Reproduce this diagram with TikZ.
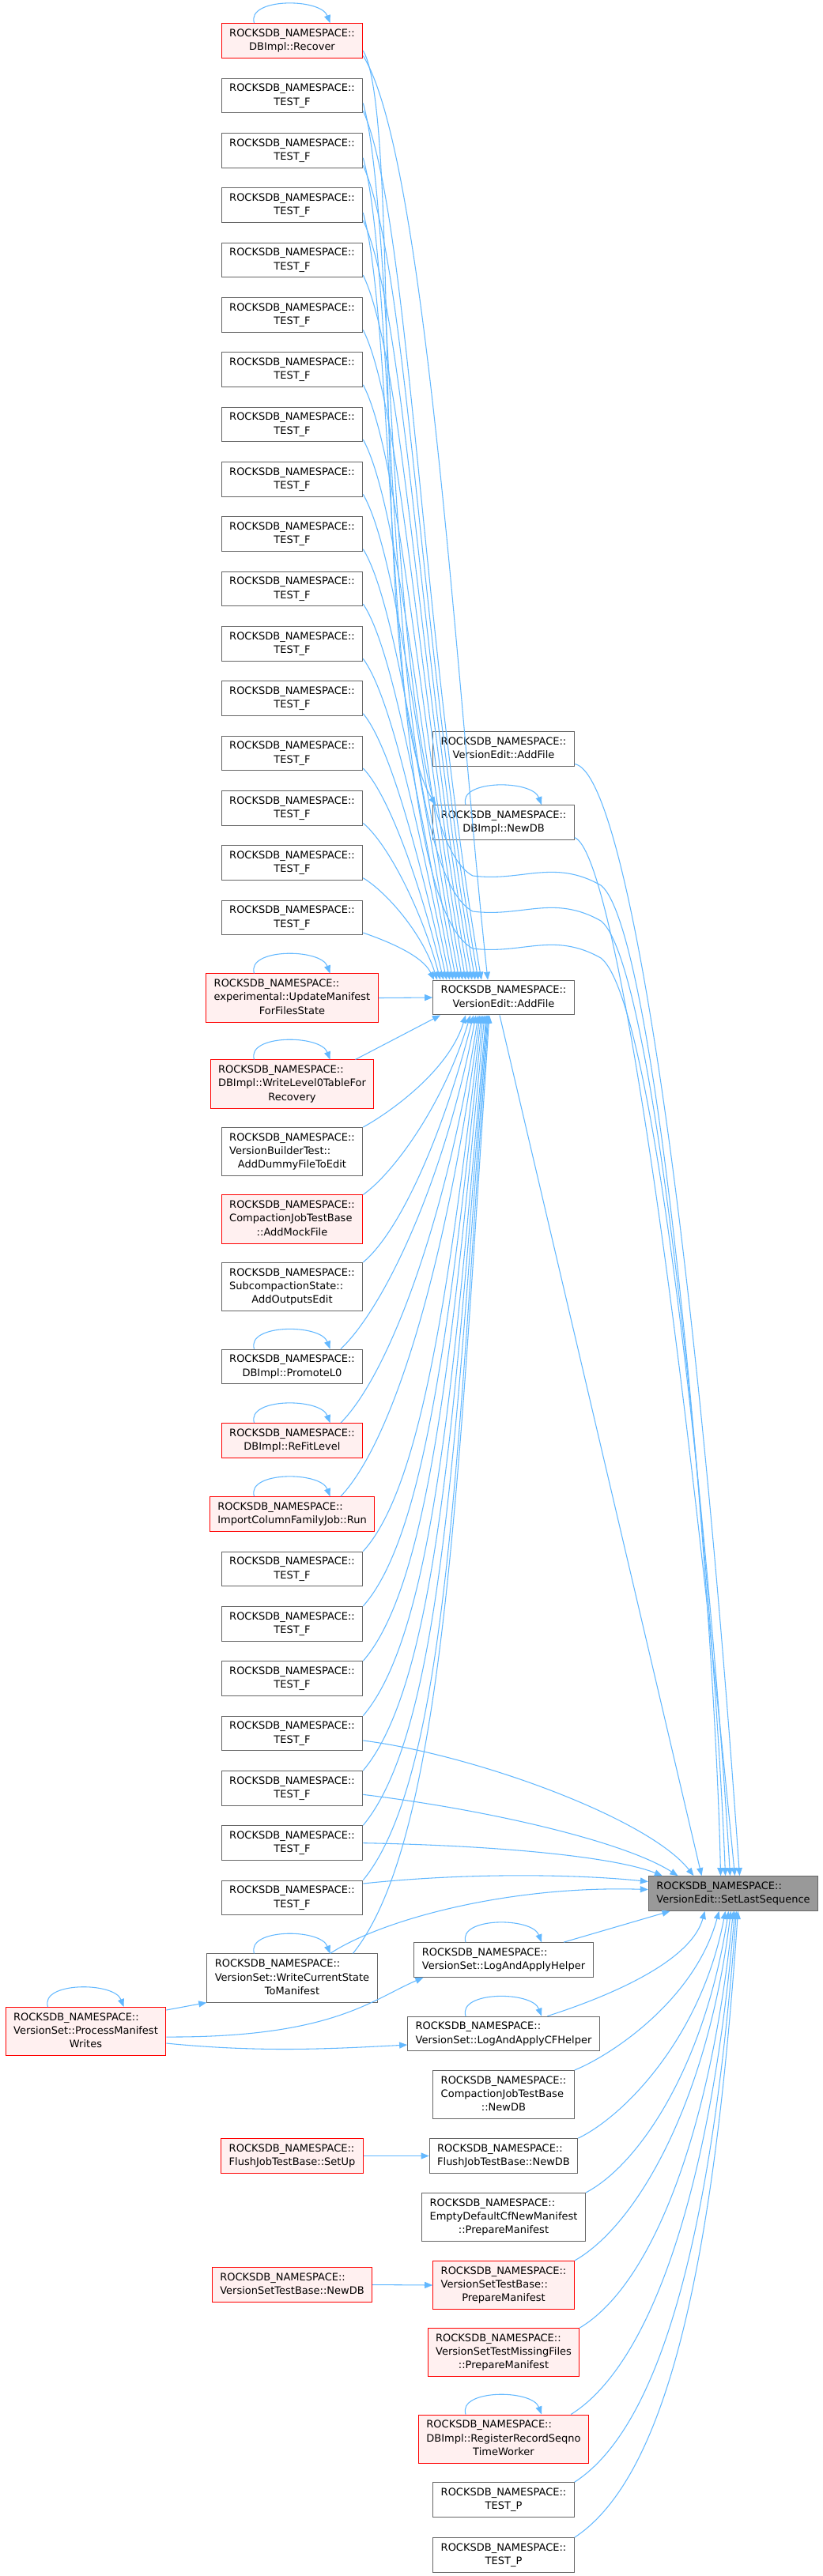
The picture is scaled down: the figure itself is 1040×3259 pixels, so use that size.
\documentclass[tikz,border=0pt]{standalone}
\usepackage{fontspec}
\setmainfont{DejaVu Sans}
\usepackage{tikz}
\usetikzlibrary{arrows.meta,positioning,calc}
\definecolor{edgeblue}{HTML}{63B8FF}
\definecolor{boxgray}{HTML}{666666}
\definecolor{redfill}{HTML}{FFF0F0}
\definecolor{curfill}{HTML}{999999}
\newcommand{\rns}{ROCKSDB\_NAMESPACE::}
\newcommand{\fnlbl}[2]{\begin{tabular}{@{}l@{}}#1\\\multicolumn{1}{@{}c@{}}{#2}\end{tabular}}

\begin{document}
\begin{tikzpicture}[x=0.75pt, y=-0.75pt,
  fn/.style={draw=boxgray, fill=white, line width=0.75pt, inner xsep=7.5pt, inner ysep=3.4pt, font=\fontsize{9.75}{13}\selectfont},
  fnred/.style={fn, draw=red, fill=redfill},
  fncur/.style={fn, fill=curfill},
  call/.style={draw=edgeblue, line width=0.8pt, -{Triangle[length=7.5pt, width=6pt]}}]
\useasboundingbox (0,0) rectangle (1040,3259);

\node[fnred] (recover) at (369.5,51.5) {\fnlbl{\rns}{DBImpl::Recover}};
\foreach \i in {1,...,16}
  \node[fn] (tf\i) at (369.5,{121+69.33*(\i-1)}) {\fnlbl{\rns}{TEST\_F}};
\node[fnred] (upd) at (369.5,1262.5) {\fnlbl{\rns\\experimental::UpdateManifest}{ForFilesState}};
\node[fnred] (wl0) at (369.5,1371.5) {\fnlbl{\rns\\DBImpl::WriteLevel0TableFor}{Recovery}};
\node[fn] (vbt) at (369.5,1457) {\fnlbl{\rns\\VersionBuilderTest::}{AddDummyFileToEdit}};
\node[fnred] (amf) at (369.5,1542.5) {\fnlbl{\rns\\CompactionJobTestBase}{::AddMockFile}};
\node[fn] (sub) at (369.5,1628) {\fnlbl{\rns\\SubcompactionState::}{AddOutputsEdit}};
\node[fn] (promote) at (369.5,1729) {\fnlbl{\rns}{DBImpl::PromoteL0}};
\node[fnred] (refit) at (369.5,1822.5) {\fnlbl{\rns}{DBImpl::ReFitLevel}};
\node[fnred] (icfrun) at (369.5,1915.5) {\fnlbl{\rns}{ImportColumnFamilyJob::Run}};
\foreach \i in {1,...,7}
  \node[fn] (tg\i) at (369.5,{1985+69.33*(\i-1)}) {\fnlbl{\rns}{TEST\_F}};
\node[fn] (wcsm) at (369.5,2502.5) {\fnlbl{\rns\\VersionSet::WriteCurrentState}{ToManifest}};
\node[fnred] (setup) at (369.5,2727.5) {\fnlbl{\rns}{FlushJobTestBase::SetUp}};
\node[fnred] (vsnewdb) at (369.5,2890.5) {\fnlbl{\rns}{VersionSetTestBase::NewDB}};

\node[fnred] (pmw) at (108.5,2570) {\fnlbl{\rns\\VersionSet::ProcessManifest}{Writes}};

\node[fn] (ae) at (637,947.5) {\fnlbl{\rns}{VersionEdit::AddFile}};
\node[fn] (newdb) at (637,1040.5) {\fnlbl{\rns}{DBImpl::NewDB}};
\node[fn] (hub) at (637,1262) {\fnlbl{\rns}{VersionEdit::AddFile}};
\node[fn] (lah) at (637,2479.5) {\fnlbl{\rns}{VersionSet::LogAndApplyHelper}};
\node[fn] (lacf) at (637,2573) {\fnlbl{\rns}{VersionSet::LogAndApplyCFHelper}};
\node[fn] (cjnewdb) at (637,2650) {\fnlbl{\rns\\CompactionJobTestBase}{::NewDB}};
\node[fn] (fjnewdb) at (637,2727.5) {\fnlbl{\rns}{FlushJobTestBase::NewDB}};
\node[fn] (empty) at (637,2805) {\fnlbl{\rns\\EmptyDefaultCfNewManifest}{::PrepareManifest}};
\node[fnred] (vspm) at (637,2891) {\fnlbl{\rns\\VersionSetTestBase::}{PrepareManifest}};
\node[fnred] (vstmf) at (637,2976) {\fnlbl{\rns\\VersionSetTestMissingFiles}{::PrepareManifest}};
\node[fnred] (rrstw) at (637,3085.5) {\fnlbl{\rns\\DBImpl::RegisterRecordSeqno}{TimeWorker}};
\node[fn] (tp1) at (637,3162.5) {\fnlbl{\rns}{TEST\_P}};
\node[fn] (tp2) at (637,3232.5) {\fnlbl{\rns}{TEST\_P}};

\node[fncur] (sls) at (927.5,2395.5) {\fnlbl{\rns}{VersionEdit::SetLastSequence}};

\draw[call] (recover.-12) .. controls (540,200) and (580,900) .. ($(hub.north)+(-20,0)$);
\draw[call] (recover.-8) .. controls (510,150) and (465,880) .. ($(newdb.north west)+(4,0)$);
\foreach \i in {1,...,16}{
  \pgfmathsetmacro\len{1240-(121+69.33*(\i-1))}
  \pgfmathsetmacro\ddx{-24-4*\i}
  \draw[call] (tf\i.-12) .. controls ($(tf\i.-12)+({0.03*\len+25},{0.12*\len})$) and ($(hub.north)+({\ddx-0.06*\len-10},{-0.4*\len})$) .. ($(hub.north)+(\ddx,0)$);
}
\foreach \s/\yy/\ddx in {tf1/1108/-16, tf2/1153/-10, tf3/1200/-4}
  \draw[call] (\s.-6) .. controls +(45,160) and (485,{\yy-60}) .. (598,\yy) .. controls (660,{\yy+8}) and (700,{\yy-22}) .. (760,{\yy+12}) .. controls (835,{\yy+70}) and (905,2050) .. ($(sls.north)+(\ddx,0)$);
\draw[call] (ae.-12) .. controls (790,975) and (875,1500) .. ($(sls.north)+(8,0)$);
\draw[call] (newdb.-12) .. controls (780,1080) and (865,1700) .. ($(sls.north)+(2,0)$);
\draw[call] ($(hub.south)+(-5,0)$) -- ($(sls.north)+(-40,0)$);

\draw[call] (upd.east) -- (hub.west);
\draw[call] ($(wl0.north east)+(-24,0)$) -- ($(hub.south)+(-80,0)$);
\foreach \a/\len/\ddx in {vbt.north east/142/-48, amf.north east/228/-42, sub.north east/313/-38, promote.20/423/-35, refit.20/516/-32, icfrun.20/609/-30, tg1.north east/679/-28, tg2.north east/748/-26, tg3.north east/817/-24, tg4.north east/887/-22, tg5.north east/956/-21, tg6.north east/1025/-20, tg7.north east/1095/-19, wcsm.22/1188/-18}
  \draw[call] (\a) .. controls ($(\a)+({0.08*\len+20},{-0.12*\len})$) and ($(hub.south)+({\ddx-min(0.15*\len,40)},{0.5*\len})$) .. ($(hub.south)+(\ddx,0)$);

\draw[call] ($(tg4.east)+(0,9)$) .. controls (600,2220) and (820,2300) .. ($(sls.north)+(-50,0)$);
\draw[call] ($(tg5.east)+(0,8)$) .. controls (620,2290) and (790,2330) .. ($(sls.north)+(-70,0)$);
\draw[call] (tg6.east) .. controls (640,2335) and (780,2350) .. ($(sls.north west)+(18,0)$);
\draw[call] ($(tg7.east)+(0,-18)$) .. controls (600,2368) and (740,2372) .. ($(sls.west)+(0,-15)$);
\draw[call] ($(wcsm.north)+(48,0)$) .. controls (480,2430) and (640,2385) .. ($(sls.west)+(0,-5)$);

\draw[call] ($(pmw.north east)+(0,4)$) -- (wcsm.south west);
\draw[call] ($(pmw.east)+(0,7)$) .. controls (420,2578) and (470,2530) .. ($(lah.south west)+(12,0)$);
\draw[call] ($(pmw.east)+(0,15)$) .. controls (330,2597) and (420,2592) .. ($(lacf.west)+(0,14)$);
\draw[call] (setup.east) -- (fjnewdb.west);
\draw[call] (vsnewdb.east) -- (vspm.west);

\draw[call] ($(lah.north)+(76,0)$) -- ($(sls.south)+(-80,0)$);
\foreach \a/\len/\ddx in {lacf.22/133/-36, cjnewdb.north east/201/-18, fjnewdb.north east/287/-10, empty.north east/356/-6, vspm.north east/442/-3, vstmf.north east/527/0, rrstw.20/637/2, tp1.north east/722/4, tp2.north east/792/6}
  \draw[call] (\a) .. controls ($(\a)+({0.12*\len+25},{-0.1*\len})$) and ($(sls.south)+({\ddx-min(0.15*\len,30)},{0.55*\len})$) .. ($(sls.south)+(\ddx,0)$);

\foreach \n in {recover,upd,wl0,newdb,promote,refit,icfrun,wcsm,pmw,lah,lacf,rrstw}
  \draw[call] ($(\n.north)+(-48,0)$) .. controls ($(\n.north)+(-58,-32)$) and ($(\n.north)+(36,-32)$) .. ($(\n.north)+(48,0)$);
\end{tikzpicture}
\end{document}
